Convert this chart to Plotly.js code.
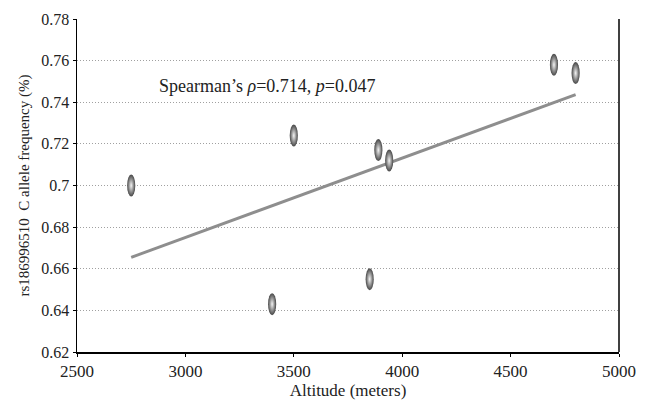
<!DOCTYPE html>
<html>
<head>
<meta charset="utf-8">
<script src="https://cdn.plot.ly/plotly-3.0.1.min.js"></script>
<style>html,body{margin:0;padding:0;background:#fff;}</style>
</head>
<body>
<div id="chart" style="width:651px;height:403px;"></div>
<script>
// Data
const altitude = [2750, 3400, 3500, 3850, 3890, 3940, 4700, 4800];
const frequency = [0.700, 0.643, 0.724, 0.655, 0.717, 0.712, 0.758, 0.754];
const trendX = [2750, 4800];
const trendY = [0.6655, 0.7437];
const yTickVals = [0.62, 0.64, 0.66, 0.68, 0.70, 0.72, 0.74, 0.76, 0.78];
const yTickText = ['0.62', '0.64', '0.66', '0.68', '0.7', '0.72', '0.74', '0.76', '0.78'];
const xTickVals = [2500, 3000, 3500, 4000, 4500, 5000];
const xTickText = ['2500', '3000', '3500', '4000', '4500', '5000'];
const statText = 'Spearman\u2019s <i>\u03c1</i>=0.714, <i>p</i>=0.047';

const font = 'Liberation Serif, Times New Roman, serif';

const traces = [
  {
    x: trendX, y: trendY, mode: 'lines', type: 'scatter',
    line: {color: '#8e8e8e', width: 3}, hoverinfo: 'skip'
  },
  {
    x: altitude, y: frequency, mode: 'markers', type: 'scatter',
    marker: {
      symbol: 'circle', size: 22, color: '#454545',
      gradient: {type: 'radial', color: '#f4f4f4'},
      line: {width: 0}
    }
  }
];

const layout = {
  width: 651, height: 403,
  margin: {l: 77, r: 32, t: 19, b: 51},
  showlegend: false,
  paper_bgcolor: '#fff', plot_bgcolor: '#fff',
  font: {family: font, size: 16, color: '#222'},
  xaxis: {
    range: [2500, 5000], tickvals: xTickVals, ticktext: xTickText,
    showgrid: false, zeroline: false,
    showline: true, linecolor: '#000', linewidth: 1.5,
    ticks: 'outside', ticklen: 3, tickcolor: '#000', tickwidth: 1,
    tickfont: {family: font, size: 17, color: '#222'},
    title: {text: 'Altitude (meters)', font: {family: font, size: 17, color: '#222'}, standoff: 0}
  },
  yaxis: {
    range: [0.62, 0.78], tickvals: yTickVals, ticktext: yTickText,
    showgrid: true, gridcolor: '#a0a0a0', gridwidth: 1, griddash: '1px,2px',
    zeroline: false,
    showline: true, linecolor: '#000', linewidth: 1.5,
    ticks: 'outside', ticklen: 3, tickcolor: '#000', tickwidth: 1,
    tickfont: {family: font, size: 16, color: '#222'},
    title: {text: 'rs186996510&nbsp; C allele frequency (%)', font: {family: font, size: 15, color: '#222'}, standoff: 8}
  },
  shapes: [
    {type: 'line', xref: 'paper', yref: 'paper', x0: 1, x1: 1, y0: 0, y1: 1,
     line: {color: '#000', width: 1.5}}
  ],
  annotations: [
    {x: 2868, y: 0.7478, xref: 'x', yref: 'y', xanchor: 'left', yanchor: 'middle',
     text: statText, showarrow: false, font: {family: font, size: 18, color: '#222'}}
  ]
};

function squash(gd) {
  gd.querySelectorAll('.scatterlayer .trace path.point').forEach(function (p) {
    const t = p.getAttribute('transform') || '';
    if (t.indexOf('scale') === -1) p.setAttribute('transform', t + ' scale(0.37,1)');
  });
}

Plotly.newPlot('chart', traces, layout, {displayModeBar: false, staticPlot: true}).then(function (gd) {
  squash(gd);
  gd.on('plotly_afterplot', function () { squash(gd); });
});
</script>
</body>
</html>
